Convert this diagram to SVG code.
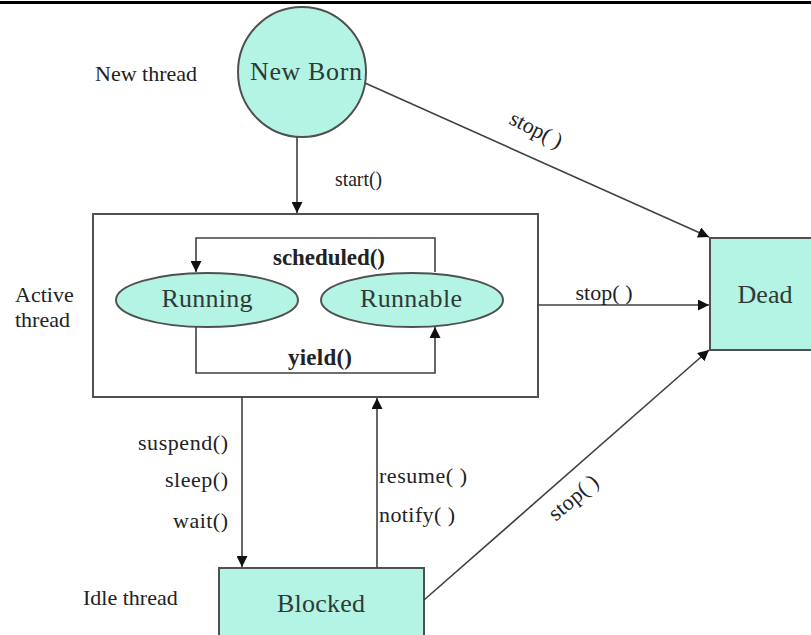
<svg xmlns="http://www.w3.org/2000/svg" width="811" height="635" viewBox="0 0 811 635">
  <style>
    .state { fill: #b4f4e4; stroke: #505050; stroke-width: 2; }
    .frame { fill: none; stroke: #505050; stroke-width: 2; }
    .wire { fill: none; stroke: #404040; stroke-width: 1.6; }
    text { font-family: "Liberation Serif", "Times New Roman", "DejaVu Serif", serif; }
    .big { font-size: 26px; fill: #2e3a36; text-anchor: middle; }
    .lbl { font-size: 22px; fill: #222; }
    .cap { font-size: 22px; fill: #222; }
    .bold { font-size: 23px; font-weight: bold; fill: #222; text-anchor: middle; }
  </style>
  <defs>
    <marker id="arrow" viewBox="0 0 10 10" refX="10" refY="5" markerWidth="11" markerHeight="11" markerUnits="userSpaceOnUse" orient="auto">
      <path d="M0,0 L10,5 L0,10 Z" fill="#111"/>
    </marker>
  </defs>

  <rect width="811" height="635" fill="#ffffff"/>
  <line x1="0" y1="2.5" x2="811" y2="2.5" stroke="#000" stroke-width="3"/>

  <!-- side captions -->
  <text class="cap" x="95" y="81">New thread</text>
  <text class="cap" x="15" y="302">Active</text>
  <text class="cap" x="15" y="327">thread</text>
  <text class="cap" x="83" y="605">Idle thread</text>

  <g id="new-born">
    <ellipse class="state" cx="302" cy="72" rx="64" ry="65"/>
    <text class="big" x="306" y="80" textLength="112" lengthAdjust="spacing">New Born</text>
  </g>

  <g id="active">
    <rect class="frame" x="93" y="214" width="445" height="183"/>
  </g>

  <g id="running">
    <ellipse class="state" cx="207" cy="300" rx="91" ry="27"/>
    <text class="big" x="207" y="307" textLength="91" lengthAdjust="spacing">Running</text>
  </g>

  <g id="runnable">
    <ellipse class="state" cx="412" cy="300" rx="91" ry="27"/>
    <text class="big" x="411" y="307" textLength="102" lengthAdjust="spacing">Runnable</text>
  </g>

  <g id="dead">
    <rect class="state" x="710" y="238" width="105" height="112"/>
    <text class="big" x="765" y="303" textLength="55" lengthAdjust="spacing">Dead</text>
  </g>

  <g id="blocked">
    <rect class="state" x="219" y="568" width="205" height="72"/>
    <text class="big" x="321" y="612" textLength="88" lengthAdjust="spacing">Blocked</text>
  </g>

  <g id="connectors">
    <!-- start -->
    <line class="wire" x1="297" y1="137" x2="297" y2="213" marker-end="url(#arrow)"/>
    <text class="lbl" x="335" y="186" textLength="47" lengthAdjust="spacingAndGlyphs">start()</text>

    <!-- new born to dead -->
    <line class="wire" x1="365" y1="83" x2="709" y2="237" marker-end="url(#arrow)"/>
    <text class="lbl" transform="translate(533,136) rotate(27)" text-anchor="middle" textLength="56" lengthAdjust="spacing">stop( )</text>

    <!-- scheduled loop -->
    <polyline class="wire" points="435,272 435,238 196,238 196,272" marker-end="url(#arrow)"/>
    <text class="bold" x="329" y="265" textLength="112" lengthAdjust="spacing">scheduled()</text>

    <!-- yield loop -->
    <polyline class="wire" points="196,327 196,373 435,373 435,327" marker-end="url(#arrow)"/>
    <text class="bold" x="320" y="365" textLength="64" lengthAdjust="spacing">yield()</text>

    <!-- active to dead -->
    <line class="wire" x1="538" y1="305" x2="709" y2="305" marker-end="url(#arrow)"/>
    <text class="lbl" x="604" y="300" text-anchor="middle" textLength="57" lengthAdjust="spacing">stop( )</text>

    <!-- active to blocked -->
    <line class="wire" x1="242" y1="397" x2="242" y2="567" marker-end="url(#arrow)"/>
    <text class="lbl" x="228" y="450" text-anchor="end" textLength="90" lengthAdjust="spacing">suspend()</text>
    <text class="lbl" x="228" y="487" text-anchor="end" textLength="63" lengthAdjust="spacing">sleep()</text>
    <text class="lbl" x="228" y="528" text-anchor="end" textLength="55" lengthAdjust="spacing">wait()</text>

    <!-- blocked to active -->
    <line class="wire" x1="377" y1="568" x2="377" y2="398" marker-end="url(#arrow)"/>
    <text class="lbl" x="379" y="483" textLength="88" lengthAdjust="spacing">resume( )</text>
    <text class="lbl" x="379" y="522" textLength="76" lengthAdjust="spacing">notify( )</text>

    <!-- blocked to dead -->
    <line class="wire" x1="424" y1="600" x2="709" y2="350" marker-end="url(#arrow)"/>
    <text class="lbl" transform="translate(578,503) rotate(-40)" text-anchor="middle" textLength="58" lengthAdjust="spacing">stop( )</text>
  </g>
</svg>
